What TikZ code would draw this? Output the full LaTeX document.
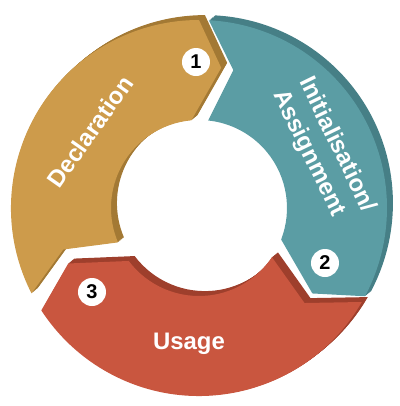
\documentclass[tikz,border=0pt]{standalone}
\usepackage{fontspec}
\setmainfont{Liberation Sans}
\usepackage{tikz}

\definecolor{goldface}{RGB}{205,155,75}
\definecolor{goldside}{RGB}{163,121,52}
\definecolor{tealface}{RGB}{91,157,164}
\definecolor{tealside}{RGB}{70,127,134}
\definecolor{redface}{RGB}{201,86,63}
\definecolor{redside}{RGB}{158,63,44}

% outer start, notch, inner start, outer end, tip, inner end
\newcommand{\ringseg}[6]{(#1:188) arc[start angle=#1, end angle=#4, radius=188] -- (#5:142) -- (#6:88) arc[start angle=#6, end angle=#3, radius=88] -- (#2:142) -- cycle}

\tikzset{
  lbl/.style={text=white, font=\fontsize{24}{29}\selectfont\bfseries},
  num/.style={circle, fill=white, inner sep=0pt, minimum size=28bp, font=\fontsize{20}{20}\selectfont\bfseries}
}

\begin{document}
\begin{tikzpicture}[x=1bp, y=1bp]
\useasboundingbox (-199,-198) rectangle (201,208);
%%% Draws declaration arrow
% draws sides
\foreach \k in {1,...,7}
  \fill[goldside, shift={(\k*0.85,\k*0.7)}] \ringseg{207}{197}{203}{90}{81}{95};
% draws top
\fill[goldface] \ringseg{207}{197}{203}{90}{81}{95};
%%% Draws initialisation arrow
\foreach \k in {1,...,7}
  \fill[tealside, shift={(\k*0.85,\k*0.7)}] \ringseg{87}{76}{84}{-28}{-37}{-21};
\fill[tealface] \ringseg{87}{76}{84}{-28}{-37}{-21};
%%% Draws usage arrow
\foreach \k in {1,...,7}
  \fill[redside, shift={(\k*0.85,\k*0.7)}] \ringseg{-30}{-42}{-34}{-147}{-157}{-143};
\fill[redface] \ringseg{-30}{-42}{-34}{-147}{-157}{-143};
% labels arrows
\node[lbl, rotate=55] (decl) at (145:133) {Declaration};
\node[lbl, rotate=-64, align=left] (init) at (24.5:137) {Initialisation/\\Assignment};
\node[lbl] (usage) at (-10,-136) {Usage};
% numbers steps
\node[num] (one) at (-3,146) {1};
\node[num] (two) at (126,-55) {2};
\node[num] (three) at (-107,-84) {3};
\end{tikzpicture}
\end{document}
